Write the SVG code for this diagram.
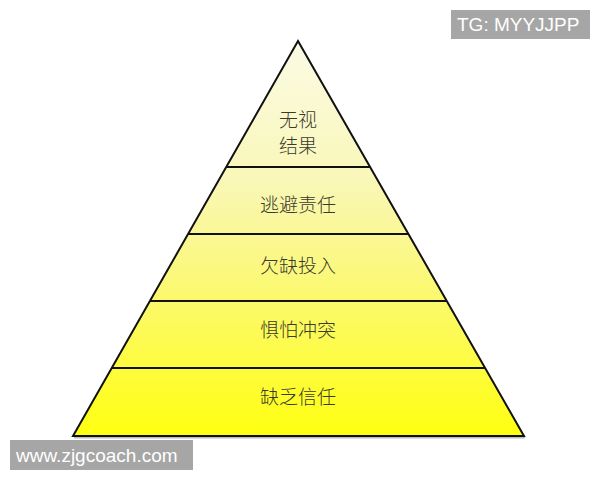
<svg xmlns="http://www.w3.org/2000/svg" width="600" height="480" viewBox="0 0 600 480">
<style>
.lbl{font-family:"Noto Sans CJK SC",sans-serif;font-size:19px;fill:#3a3a2a;text-anchor:middle;font-weight:300}
.band{stroke:#111;stroke-width:2}
.wm{font-family:"Liberation Sans",Arial,sans-serif;font-size:19px;fill:#fff}
</style>
<defs>
<linearGradient id="g" x1="0" y1="41" x2="0" y2="436" gradientUnits="userSpaceOnUse">
<stop offset="0" stop-color="#fbfbe6"/>
<stop offset="0.35" stop-color="#f9f7b8"/>
<stop offset="0.6" stop-color="#fbf87a"/>
<stop offset="1" stop-color="#ffff10"/>
</linearGradient>
</defs>
<rect width="600" height="480" fill="#fff"/>
<line x1="74" y1="437.5" x2="525" y2="437.5" stroke="#bbb" stroke-width="2"/>
<g id="pyramid">
<polygon points="298,41 524,436 73,436" fill="url(#g)" stroke="#111" stroke-width="2"/>
</g>
<g id="connectors">
<line class="band" x1="226" y1="167" x2="370" y2="167"/>
<line class="band" x1="188" y1="234" x2="408" y2="234"/>
<line class="band" x1="150" y1="301" x2="446" y2="301"/>
<line class="band" x1="112" y1="368" x2="485" y2="368"/>
</g>
<g id="n1"><text class="lbl" x="298" y="127">无视</text><text class="lbl" x="298" y="153">结果</text></g>
<g id="n2"><text class="lbl" x="298" y="212">逃避责任</text></g>
<g id="n3"><text class="lbl" x="298" y="273">欠缺投入</text></g>
<g id="n4"><text class="lbl" x="298" y="337">惧怕冲突</text></g>
<g id="n5"><text class="lbl" x="298" y="404">缺乏信任</text></g>
<g id="wm1"><rect x="451" y="10" width="139" height="29" fill="#a6a6a6"/><text class="wm" x="457" y="31">TG: MYYJJPP</text></g>
<g id="wm2"><rect x="10" y="440" width="183" height="30" fill="#a6a6a6"/><text class="wm" x="16" y="462">www.zjgcoach.com</text></g>
</svg>
